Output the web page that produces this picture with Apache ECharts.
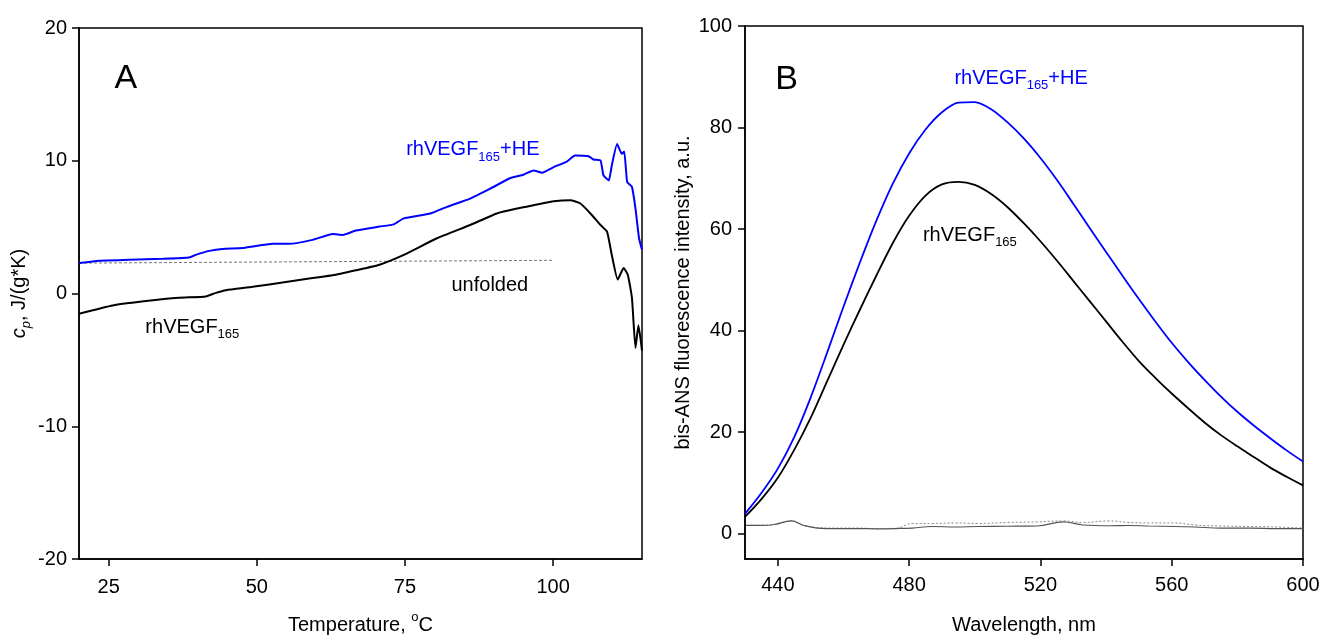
<!DOCTYPE html>
<html><head><meta charset="utf-8">
<script src="https://cdn.jsdelivr.net/npm/echarts@6/dist/echarts.min.js"></script>
<style>html,body{margin:0;padding:0;background:#fff}#c{width:1328px;height:640px}</style>
</head><body><div id="c"></div>
<script>
// Panel A: DSC, cp vs temperature
const tempHE = [20,23.4,28.5,34.1,38.6,39.7,42,44.2,47.6,52.7,55.5,59.4,62.8,64.5,66.7,70.7,73.1,74.8,79.3,82.1,86,89.4,92.8,95,96.7,98.1,100.1,102.3,103.7,106,106.8,108,108.5,109.4,109.9,110.8,111.6,112,112.5,113.3,113.9,114.5,115];
const cpHE = [2.29,2.47,2.54,2.62,2.72,2.91,3.21,3.36,3.42,3.74,3.74,4.04,4.48,4.41,4.74,5.04,5.21,5.66,6.03,6.53,7.15,7.9,8.7,8.95,9.27,9.1,9.52,9.94,10.39,10.34,10.09,10.02,8.89,8.52,9.64,11.26,10.52,10.69,8.4,8.03,6.4,4.16,3.29];
const tempV = [20,25.7,31.3,36.9,41.4,43.1,44.8,49.3,54.9,59.4,62.8,66.7,70.7,74.8,80.4,86,90.5,93.9,97.3,100.1,102.9,104.6,106.3,108,109.1,109.9,110.9,111.9,112.6,113.3,113.9,114.4,115];
const cpV = [-1.52,-0.9,-0.57,-0.32,-0.22,0.05,0.25,0.5,0.87,1.17,1.37,1.75,2.17,2.91,4.16,5.16,6.03,6.4,6.7,6.95,7.03,6.78,6.03,5.16,4.66,2.91,1.05,1.92,1.42,-0.32,-4.1,-2.4,-4.3];
const unfoldedT = [20,100];
const unfoldedCp = [2.29,2.5];
const ticksA_x = [25,50,75,100];

// Panel B: bis-ANS fluorescence vs wavelength
const wl = [430,435,440,445,450,455,460,465,470,475,480,485,490,495,500,505,510,515,520,525,530,535,540,545,550,555,560,565,570,575,580,585,590,595,600];
const flHE = [3.9,8.0,12.8,19.0,26.8,35.6,44.7,53.4,61.6,68.9,74.9,79.6,83.0,84.9,85.0,83.6,81.0,77.8,74.0,69.7,65.0,60.2,55.5,50.8,46.2,41.8,37.6,33.8,30.3,27.0,24.0,21.3,18.8,16.4,14.2];
const flV = [3.3,6.8,11.0,16.5,22.8,30.0,37.2,44.1,50.8,57.2,62.6,66.6,68.8,69.3,68.7,66.9,64.3,61.1,57.6,53.8,49.8,45.8,41.8,37.8,34.0,30.7,27.6,24.7,21.9,19.4,17.2,15.1,13.0,11.2,9.5];
const wlBase = [430.3,435,439,444.1,448,452,458,464,470,476,481,487,494,501,510,519,527,533,541,547,553,561,567,575,584,592,600];
const flBase1 = [1.63,1.63,1.8,2.5,1.6,1.1,1.0,1.0,0.95,1.0,1.1,1.4,1.3,1.4,1.45,1.5,2.3,1.7,1.55,1.6,1.5,1.4,1.3,1.1,1.1,1.0,1.0];
const flBase2 = [1.63,1.63,1.8,2.5,1.6,1.2,1.1,1.1,1.0,1.05,2.0,2.0,2.1,2.0,2.2,2.3,2.5,2.2,2.5,2.2,2.1,2.1,1.7,1.5,1.4,1.3,1.1];
const ticksB_x = [440,480,520,560,600];
const ticksB_y = [0,20,40,60,80,100];

const F = 'Liberation Sans, Arial, sans-serif';
const pair = (xs, ys) => xs.map((x, i) => [x, ys[i]]);
const subRich = (color) => ({
  m: {fontFamily: F, fontSize: 20, color: color, lineHeight: 24, verticalAlign: 'top'},
  s: {fontFamily: F, fontSize: 13, color: color, lineHeight: 14, verticalAlign: 'bottom'}
});
const lbl = (coord, text, rich) => ({
  coord: coord, symbolSize: 0,
  label: {show: true, position: 'inside', align: 'left', verticalAlign: 'middle', formatter: text, rich: rich}
});

const axisCommon = {
  axisLine: {show: true, onZero: false, lineStyle: {color: '#000', width: 1.5}},
  axisTick: {show: true, inside: false, length: 7, lineStyle: {color: '#000', width: 1.5}},
  splitLine: {show: false},
};

const chart = echarts.init(document.getElementById('c'), null, {renderer: 'canvas'});
chart.setOption({
  animation: false,
  backgroundColor: '#fff',
  grid: [
    {left: 79, right: 686, top: 28, bottom: 78, show: true, borderColor: '#000', borderWidth: 1.5, containLabel: false},
    {left: 745, right: 25, top: 26, bottom: 80, show: true, borderColor: '#000', borderWidth: 1.5, containLabel: false}
  ],
  xAxis: [
    Object.assign({}, axisCommon, {
      gridIndex: 0, type: 'value', min: 20, max: 115,
      axisTick: Object.assign({}, axisCommon.axisTick, {customValues: ticksA_x}),
      axisLabel: {customValues: ticksA_x, fontFamily: F, fontSize: 20, color: '#000', margin: 18},
      name: '{n|Temperature, }{sup|o}{n|C}', nameLocation: 'middle', nameGap: 52,
      nameTextStyle: {rich: {
        n: {fontFamily: F, fontSize: 20, color: '#000', lineHeight: 24, verticalAlign: 'bottom'},
        sup: {fontFamily: F, fontSize: 13, color: '#000', lineHeight: 14, verticalAlign: 'top'}
      }}
    }),
    Object.assign({}, axisCommon, {
      gridIndex: 1, type: 'value', min: 430, max: 600,
      axisTick: Object.assign({}, axisCommon.axisTick, {customValues: ticksB_x}),
      axisLabel: {customValues: ticksB_x, fontFamily: F, fontSize: 20, color: '#000', margin: 16},
      name: 'Wavelength, nm', nameLocation: 'middle', nameGap: 56,
      nameTextStyle: {fontFamily: F, fontSize: 20, color: '#000'}
    })
  ],
  yAxis: [
    Object.assign({}, axisCommon, {
      gridIndex: 0, type: 'value', min: -20, max: 20, interval: 10,
      axisLabel: {fontFamily: F, fontSize: 20, color: '#000', margin: 12},
      name: '{i|c}{s|p}{n|, J/(g*K)}', nameLocation: 'middle', nameGap: 46, nameRotate: 90,
      nameTextStyle: {rich: {
        i: {fontFamily: F, fontSize: 20, fontStyle: 'italic', color: '#000', lineHeight: 24, verticalAlign: 'top'},
        n: {fontFamily: F, fontSize: 20, color: '#000', lineHeight: 24, verticalAlign: 'top'},
        s: {fontFamily: F, fontSize: 13, fontStyle: 'italic', color: '#000', lineHeight: 14, verticalAlign: 'bottom'}
      }}
    }),
    Object.assign({}, axisCommon, {
      gridIndex: 1, type: 'value', min: -5, max: 100,
      axisTick: Object.assign({}, axisCommon.axisTick, {customValues: ticksB_y}),
      axisLabel: {customValues: ticksB_y, fontFamily: F, fontSize: 20, color: '#000', margin: 13},
      name: 'bis-ANS fluorescence intensity, a.u.', nameLocation: 'middle', nameGap: 52, nameRotate: 90,
      nameTextStyle: {fontFamily: F, fontSize: 20, color: '#000'}
    })
  ],
  series: [
    {type: 'line', xAxisIndex: 0, yAxisIndex: 0, data: pair(unfoldedT, unfoldedCp), showSymbol: false, silent: true,
     lineStyle: {color: '#777', width: 1, type: [3, 2]}},
    {type: 'line', xAxisIndex: 0, yAxisIndex: 0, data: pair(tempV, cpV), showSymbol: false, smooth: 0.15,
     lineStyle: {color: '#000', width: 2},
     markPoint: {silent: true, data: [
       lbl([26.0, 16.2], '{a|A}', {a: {fontFamily: F, fontSize: 34, color: '#000'}}),
       lbl([31.2, -2.68], '{m|rhVEGF}{s|165}', subRich('#000')),
       lbl([82.85, 0.45], '{m|unfolded}', subRich('#000'))
     ]}},
    {type: 'line', xAxisIndex: 0, yAxisIndex: 0, data: pair(tempHE, cpHE), showSymbol: false, smooth: 0.15,
     lineStyle: {color: '#0000ff', width: 2},
     markPoint: {silent: true, data: [
       lbl([75.2, 10.68], '{m|rhVEGF}{s|165}{m|+HE}', subRich('#0000ff'))
     ]}},
    {type: 'line', xAxisIndex: 1, yAxisIndex: 1, data: pair(wlBase, flBase2), showSymbol: false, smooth: 0.4,
     lineStyle: {color: '#888', width: 1, type: [2, 2]}},
    {type: 'line', xAxisIndex: 1, yAxisIndex: 1, data: pair(wlBase, flBase1), showSymbol: false, smooth: 0.4,
     lineStyle: {color: '#555', width: 1.2}},
    {type: 'line', xAxisIndex: 1, yAxisIndex: 1, data: pair(wl, flV), showSymbol: false, smooth: 0.3,
     lineStyle: {color: '#000', width: 1.8},
     markPoint: {silent: true, data: [
       lbl([439.2, 89.5], '{a|B}', {a: {fontFamily: F, fontSize: 34, color: '#000'}}),
       lbl([484.2, 58.4], '{m|rhVEGF}{s|165}', subRich('#000'))
     ]}},
    {type: 'line', xAxisIndex: 1, yAxisIndex: 1, data: pair(wl, flHE), showSymbol: false, smooth: 0.3,
     lineStyle: {color: '#0000ff', width: 1.8},
     markPoint: {silent: true, data: [
       lbl([493.8, 89.3], '{m|rhVEGF}{s|165}{m|+HE}', subRich('#0000ff'))
     ]}}
  ]
});
</script></body></html>
